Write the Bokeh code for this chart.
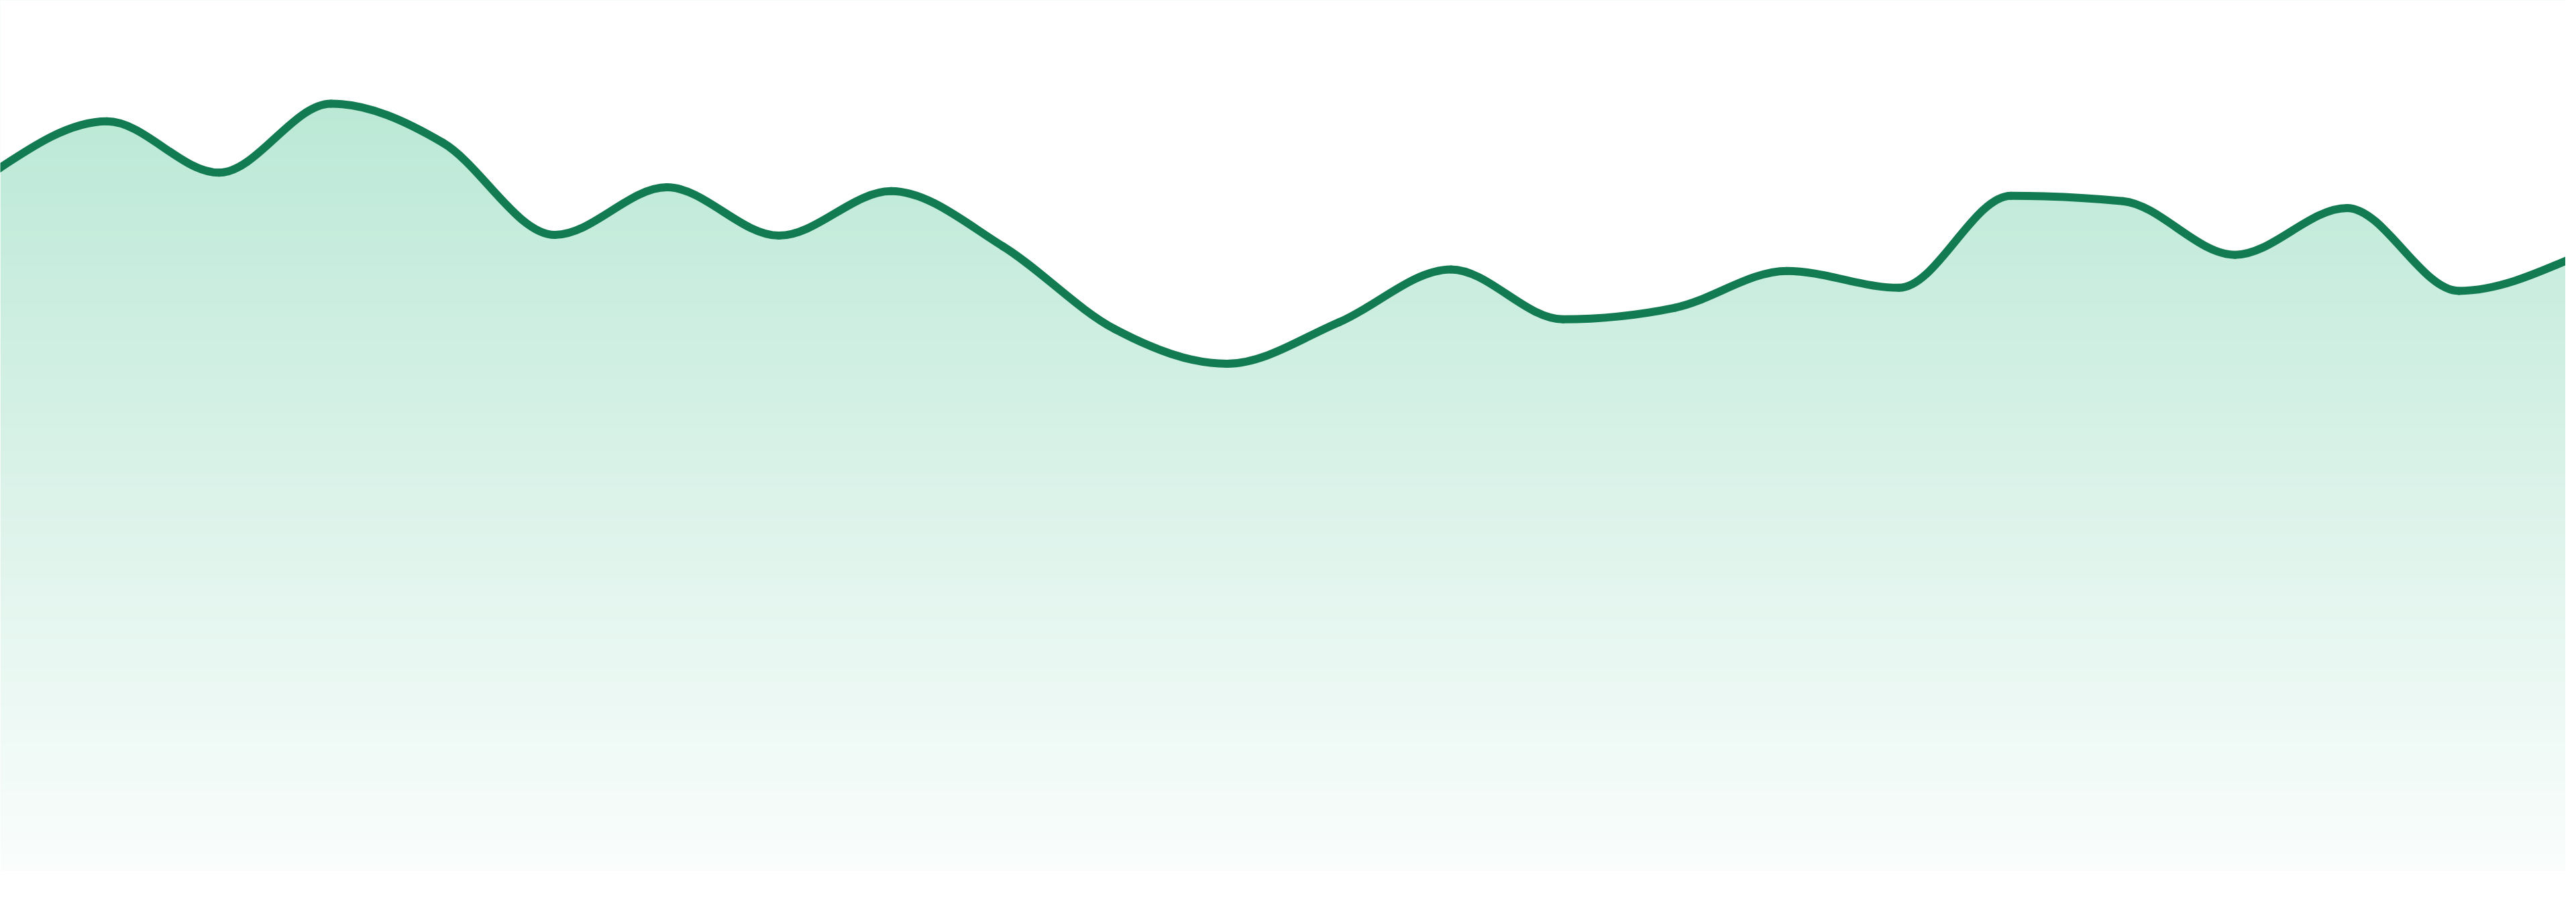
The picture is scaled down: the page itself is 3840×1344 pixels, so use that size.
import numpy as np
from bokeh.plotting import figure
from bokeh.embed import file_html
from bokeh.resources import INLINE

# ---- data ----
x_index = list(range(24))
values = [91.2, 97.7, 91.0, 100.0, 94.9, 82.9, 89.1, 82.8, 88.6, 81.4, 70.6, 66.1,
          71.5, 78.4, 71.9, 73.4, 78.2, 76.0, 88.0, 87.3, 80.3, 86.4, 75.6, 79.8]

# ---- style ----
LINE_COLOR = "#137B52"
GRAD_TOP = (187, 232, 214)
GRAD_BOTTOM = (250, 253, 252)

W, H = 3824, 1328
PAGE_MARGIN = 8
PX_PER_STEP = 3840 / 23.0
PX_PER_UNIT = 11.43
BASE_PAGE_Y = 1305.0
GRAD_TOP_PAGE_Y = 160.0

x_start = PAGE_MARGIN / PX_PER_STEP
x_end = (PAGE_MARGIN + W) / PX_PER_STEP
y_end = (BASE_PAGE_Y - PAGE_MARGIN) / PX_PER_UNIT
y_start = -(PAGE_MARGIN + H - BASE_PAGE_Y) / PX_PER_UNIT

x = np.asarray(x_index, dtype=float)
y = np.asarray(values, dtype=float)


def monotone_tangents(x, y):
    n = len(x)
    t = np.zeros(n)
    for i in range(1, n - 1):
        h0 = x[i] - x[i - 1]
        h1 = x[i + 1] - x[i]
        s0 = (y[i] - y[i - 1]) / h0
        s1 = (y[i + 1] - y[i]) / h1
        p = (s0 * h1 + s1 * h0) / (h0 + h1)
        t[i] = (np.sign(s0) + np.sign(s1)) * min(abs(s0), abs(s1), 0.5 * abs(p))
    h = x[1] - x[0]
    t[0] = (3 * (y[1] - y[0]) / h - t[1]) / 2
    h = x[-1] - x[-2]
    t[-1] = (3 * (y[-1] - y[-2]) / h - t[-2]) / 2
    return t


t = monotone_tangents(x, y)
dx = (x[1:] - x[:-1]) / 3.0
seg = dict(
    x0=x[:-1], y0=y[:-1], x1=x[1:], y1=y[1:],
    cx0=x[:-1] + dx, cy0=y[:-1] + dx * t[:-1],
    cx1=x[1:] - dx, cy1=y[1:] - dx * t[1:],
)

# path of the monotone curve, used for the white mask above the area
tt = np.linspace(0, 1, 40)[:, None]
def bez(a, b, c, d):
    return ((1 - tt) ** 3) * a + 3 * ((1 - tt) ** 2) * tt * b + 3 * (1 - tt) * tt ** 2 * c + tt ** 3 * d
px = bez(seg["x0"], seg["cx0"], seg["cx1"], seg["x1"]).T.ravel()
py = bez(seg["y0"], seg["cy0"], seg["cy1"], seg["y1"]).T.ravel()

p = figure(width=W, height=H, x_range=(x_start, x_end), y_range=(y_start, y_end),
           output_backend="svg", toolbar_location=None, min_border=0, title=None,
           x_axis_type=None, y_axis_type=None)
p.grid.visible = False
p.outline_line_color = None
p.background_fill_color = "white"
p.border_fill_color = "white"

# vertical gradient fill
rows = int(round(BASE_PAGE_Y - PAGE_MARGIN))
img = np.empty((rows, 1), dtype=np.uint32)
view = img.view(dtype=np.uint8).reshape((rows, 1, 4))
page_y = BASE_PAGE_Y - (np.arange(rows) + 0.5)
frac = np.clip((page_y - GRAD_TOP_PAGE_Y) / (BASE_PAGE_Y - GRAD_TOP_PAGE_Y), 0, 1)
for k in range(3):
    view[:, 0, k] = np.round(GRAD_TOP[k] + frac * (GRAD_BOTTOM[k] - GRAD_TOP[k])).astype(np.uint8)
view[:, 0, 3] = 255
p.image_rgba(image=[img], x=x_start, y=0, dw=x_end - x_start, dh=y_end)

# white mask above the curve
p.varea(x=px, y1=py, y2=np.full_like(py, y_end + 5), fill_color="white")

# the line
p.bezier(line_color=LINE_COLOR, line_width=12, line_cap="round", **seg)

open("out.html", "w").write(file_html(p, INLINE))
